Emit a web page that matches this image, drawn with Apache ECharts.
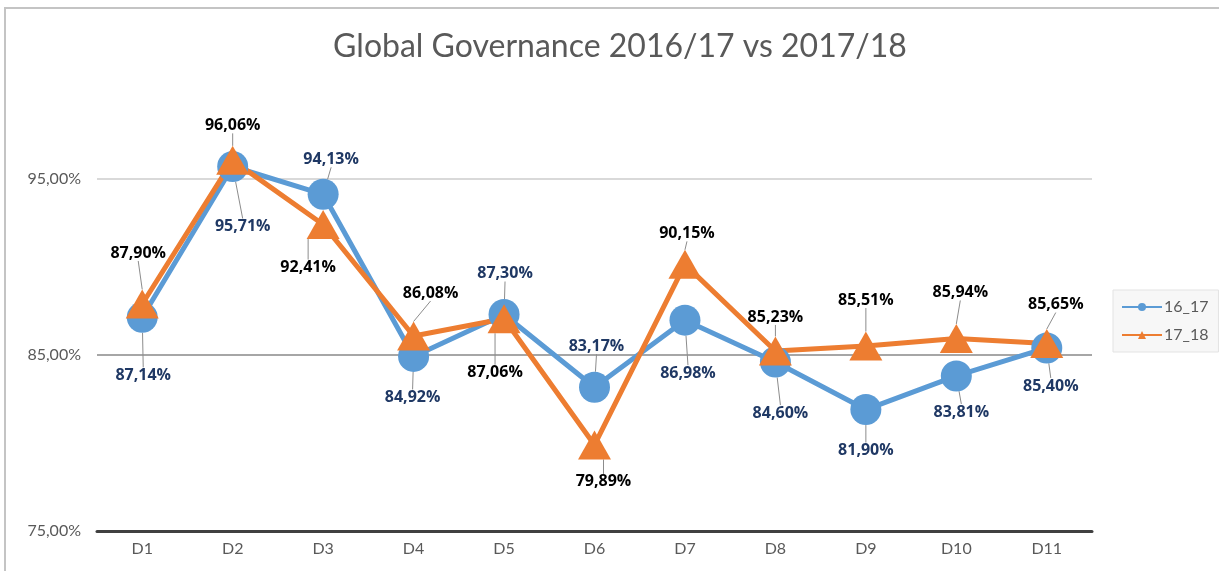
<!DOCTYPE html>
<html>
<head>
<meta charset="utf-8">
<script src="https://cdn.jsdelivr.net/npm/echarts@6/dist/echarts.min.js"></script>
<style>
  html, body { margin: 0; padding: 0; background: #fff; }
  #chart { width: 1219px; height: 571px; }
  /* frame of the original sheet */
  .frame {
    position: absolute; left: 4px; top: 7px; width: 1300px; height: 700px;
    border-top: 2px solid #c4c4c4; border-left: 2px solid #c4c4c4;
    pointer-events: none;
  }
</style>
</head>
<body>
<div id="chart"></div>
<div class="frame"></div>
<script>
const categories = ["D1", "D2", "D3", "D4", "D5", "D6", "D7", "D8", "D9", "D10", "D11"];
const values1617 = [87.14, 95.71, 94.13, 84.92, 87.30, 83.17, 86.98, 84.60, 81.90, 83.81, 85.40];
const values1718 = [87.90, 96.06, 92.41, 86.08, 87.06, 79.89, 90.15, 85.23, 85.51, 85.94, 85.65];
const seriesNames = ["16_17", "17_18"];

// where the data labels were dragged to (dx, dy from the point)
const labelShift1617 = [[1, 58], [10, 60], [8, -35], [-1, 41], [1, -41], [2, -41], [3, 53], [5, 51], [0, 41], [5, 36], [4, 38]];
const labelShift1718 = [[-4, -51], [0, -35], [-15, 43], [17, -43], [-9, 54], [9, 37], [2, -31], [0, -34], [0, -46], [4, -46], [9, -39]];

const pct = v => v.toFixed(2).replace(".", ",") + "%";
const font = "Lato, 'Open Sans', sans-serif";

function makeSeries(name, data, color, symbol, symbolSize, labelColor, shifts) {
  return {
    name: name,
    type: "line",
    data: data,
    symbol: symbol,
    symbolSize: symbolSize,
    lineStyle: { color: color, width: 5 },
    itemStyle: { color: color },
    emphasis: { disabled: true },
    label: {
      show: true,
      position: "inside",
      formatter: p => pct(p.value),
      color: labelColor,
      fontFamily: "'Open Sans', sans-serif",
      fontWeight: "bold",
      fontSize: 16
    },
    labelLine: {
      show: true,
      lineStyle: { color: "#8c8c8c", width: 1 }
    },
    labelLayout: p => ({ dx: shifts[p.dataIndex][0], dy: shifts[p.dataIndex][1] })
  };
}

const chart = echarts.init(document.getElementById("chart"));
const option = {
  backgroundColor: "#fff",
  animation: false,
  title: {
    text: "Global Governance 2016/17 vs 2017/18",
    left: 615,
    textAlign: "center",
    top: 26,
    textStyle: { fontFamily: font, fontWeight: "normal", fontSize: 32, color: "#595959" }
  },
  legend: {
    orient: "vertical",
    left: 1113,
    top: 290,
    padding: [9, 10, 9, 8],
    itemGap: 12,
    itemWidth: 40,
    itemHeight: 10,
    backgroundColor: "#f7f7f7",
    borderColor: "#e3e3e3",
    borderWidth: 1,
    data: seriesNames,
    textStyle: { fontFamily: font, fontSize: 16, color: "#595959", padding: [0, 0, 0, -3] }
  },
  grid: { left: 97, right: 127, top: 91, bottom: 40 },
  xAxis: {
    type: "category",
    data: categories,
    axisLine: { lineStyle: { color: "#404040", width: 3 } },
    axisTick: { show: false },
    axisLabel: { color: "#595959", fontFamily: font, fontSize: 16, margin: 10 }
  },
  yAxis: {
    type: "value",
    min: 75,
    max: 100,
    interval: 10,
    axisLine: { show: false },
    axisTick: { show: false },
    axisLabel: {
      color: "#595959",
      fontFamily: font,
      fontSize: 16,
      margin: 16,
      formatter: v => (v === 100 ? "" : pct(v))
    },
    splitLine: {
      lineStyle: { color: ["rgba(0,0,0,0)", "#a6a6a6", "#d9d9d9", "rgba(0,0,0,0)"], width: 2 }
    }
  },
  series: [
    makeSeries(seriesNames[0], values1617, "#5b9bd5", "circle", 31, "#1f3864", labelShift1617),
    makeSeries(seriesNames[1], values1718, "#ed7d31", "triangle", [33, 29], "#000000", labelShift1718)
  ]
};
chart.setOption(option);
</script>
</body>
</html>
